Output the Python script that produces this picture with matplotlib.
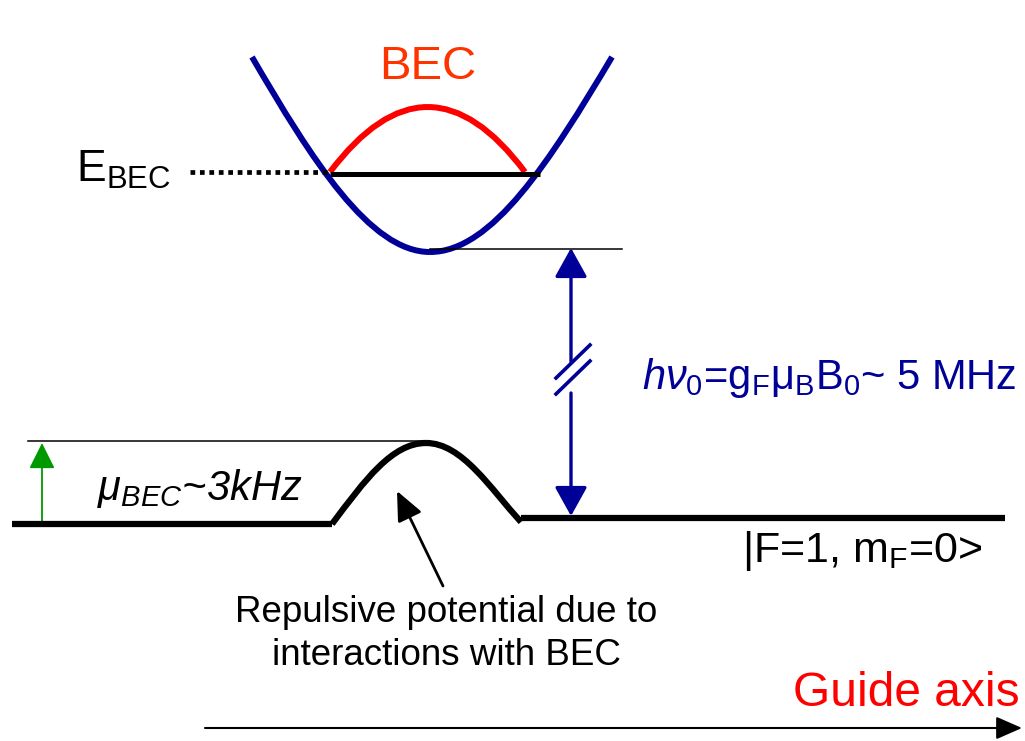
import matplotlib
matplotlib.use("Agg")
import matplotlib.pyplot as plt
from matplotlib.path import Path
from matplotlib.patches import PathPatch, FancyArrowPatch, ArrowStyle

plt.rcParams['font.family'] = ['Liberation Sans', 'DejaVu Sans']
plt.rcParams['mathtext.fontset'] = 'custom'
plt.rcParams['mathtext.rm'] = 'Liberation Sans'
plt.rcParams['mathtext.it'] = 'Liberation Sans:italic'
plt.rcParams['mathtext.bf'] = 'Liberation Sans:bold'

# ---- diagram geometry (pixel coordinates) ----
# magnetic trap (two cubic Bezier halves): start, ctrl1, ctrl2, end
trap_left = [(252, 57), (312, 160), (370, 252), (430, 252)]
trap_right = [(430, 252), (492, 252), (550, 161), (612, 57)]
# BEC density profile (quadratic Bezier)
bec_arch = [(330, 172), (428, 42), (525, 172)]
# E_BEC level
ebec_dotted_x = [190, 330]
ebec_solid_x = [330, 540]
ebec_y = 172
# trap bottom reference line
trap_bottom_x = [430, 622]
trap_bottom_y = 249
# lower state |F=1, mF=0>
ground_left_x = [12, 332]
ground_left_y = 524
bump_left = [(332, 524), (365, 480), (392, 443), (426, 443)]
bump_right = [(426, 443), (462, 443), (490, 488), (521, 522)]
ground_right_x = [521, 1005]
ground_right_y = 518
mu_ref_x = [28, 426]
mu_ref_y = 441
# arrows
mu_arrow = [(42, 522), (42, 443)]
rf_arrow_up = [(571, 362), (571, 248)]
rf_arrow_down = [(571, 393), (571, 516)]
break_marks = [[(556, 378), (590, 345)], [(556, 394), (590, 361)]]
pointer_arrow = [(443, 586), (397, 491)]
axis_arrow = [(205, 728), (1022, 728)]

BLUE = '#000099'
fig = plt.figure(figsize=(10.25, 7.41), dpi=100)
ax = fig.add_axes([0, 0, 1, 1])
ax.set_xlim(0, 1025)
ax.set_ylim(741, 0)
ax.axis('off')


def bezier(pts, lw, color):
    codes = [Path.MOVETO] + [Path.CURVE4 if len(pts) == 4 else Path.CURVE3] * (len(pts) - 1)
    ax.add_patch(PathPatch(Path(pts, codes), fill=False, lw=lw, ec=color,
                           capstyle='butt', joinstyle='miter'))


def arrow(p0, p1, color, lw, hl, hw):
    ax.add_patch(FancyArrowPatch(p0, p1, arrowstyle=ArrowStyle('-|>', head_length=hl, head_width=hw),
                                 mutation_scale=1, color=color, lw=lw, shrinkA=0, shrinkB=0))


# E_BEC level lines
ax.plot(ebec_dotted_x, [ebec_y, ebec_y], color='black', lw=3.4, ls=(0, (1, 1)),
        solid_capstyle='butt', dash_capstyle='butt')
ax.plot(ebec_solid_x, [ebec_y + 2, ebec_y + 2], color='black', lw=3.6, solid_capstyle='butt')
# trap
bezier(trap_left, 4.3, BLUE)
bezier(trap_right, 4.3, BLUE)
# BEC
bezier(bec_arch, 4.3, '#FF0000')
# trap bottom
ax.plot(trap_bottom_x, [trap_bottom_y] * 2, color='black', lw=1.1)

# lower state
ax.plot(mu_ref_x, [mu_ref_y] * 2, color='black', lw=1.1)
ax.plot(ground_left_x, [ground_left_y] * 2, color='black', lw=4.5, solid_capstyle='butt')
bezier(bump_left, 4.5, 'black')
bezier(bump_right, 4.5, 'black')
ax.plot(ground_right_x, [ground_right_y] * 2, color='black', lw=4.5, solid_capstyle='butt')

# arrows
arrow(mu_arrow[0], mu_arrow[1], '#009900', 1.3, 16, 8)
arrow(rf_arrow_up[0], rf_arrow_up[1], BLUE, 2.4, 18, 10)
arrow(rf_arrow_down[0], rf_arrow_down[1], BLUE, 2.4, 18, 10)
for seg in break_marks:
    ax.plot([seg[0][0], seg[1][0]], [seg[0][1], seg[1][1]], color=BLUE, lw=2.6)
arrow(pointer_arrow[0], pointer_arrow[1], 'black', 2.0, 18, 8)
arrow(axis_arrow[0], axis_arrow[1], 'black', 1.5, 16, 7)

# texts
ax.text(428, 79, 'BEC', color='#FF3300', fontsize=34, ha='center', va='baseline')
ax.text(76, 182, r'E$_{\mathrm{BEC}}$', color='black', fontsize=32, ha='left', va='baseline')
ax.text(642, 389, r'$h\nu_{\mathrm{0}}$=g$_{\mathrm{F}}$μ$_{\mathrm{B}}$B$_{\mathrm{0}}$~ 5 MHz',
        color=BLUE, fontsize=30, ha='left', va='baseline')
ax.text(97, 500, r'$\mu_{BEC}$~3kHz', color='black', fontsize=30, style='italic',
        ha='left', va='baseline')
ax.text(742, 562, r'|F=1, m$_{\mathrm{F}}$=0>', color='black', fontsize=31, ha='left', va='baseline')
ax.text(446, 622, 'Repulsive potential due to', color='black', fontsize=26.5,
        ha='center', va='baseline')
ax.text(446, 665, 'interactions with BEC', color='black', fontsize=26.5,
        ha='center', va='baseline')
ax.text(1020, 706, 'Guide axis', color='#FF0000', fontsize=34.5, ha='right', va='baseline')

fig.savefig('out.png', dpi=100)
